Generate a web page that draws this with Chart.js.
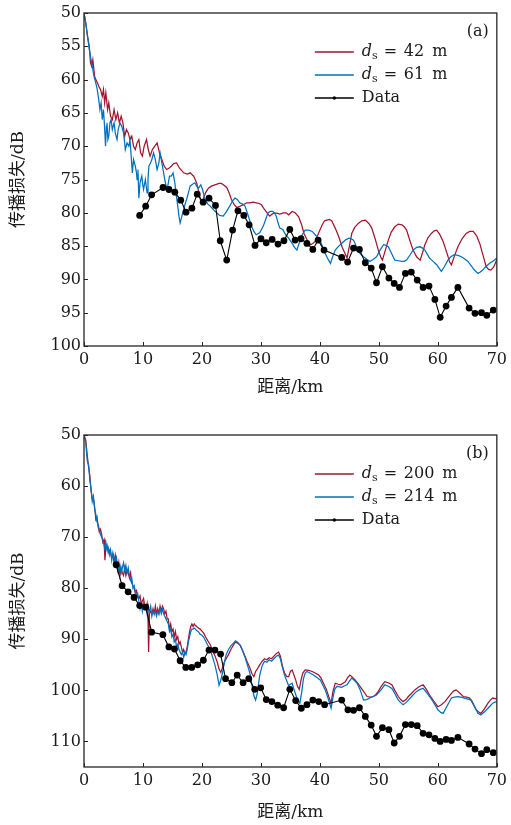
<!DOCTYPE html>
<html lang="zh">
<head>
<meta charset="UTF-8">
<title>传播损失</title>
<script src="https://cdn.jsdelivr.net/npm/chart.js"></script>
<style>
  html, body { margin: 0; padding: 0; background: #fff; }
  #wrap { position: relative; width: 511px; height: 825px; }
  canvas { position: absolute; left: 0; }
</style>
</head>
<body>
<div id="wrap">
  <canvas id="chartA" width="511" height="412" style="top:0"></canvas>
  <canvas id="chartB" width="511" height="413" style="top:412px"></canvas>
</div>
<script>
// ticks
var xTicks = [0, 10, 20, 30, 40, 50, 60, 70];
var yTicksA = [50, 55, 60, 65, 70, 75, 80, 85, 90, 95, 100];
var yTicksB = [50, 60, 70, 80, 90, 100, 110];

var namesA = ['42', '61', 'Data'];
var namesB = ['200', '214', 'Data'];

// (a) model, d_s = 42 m  [km, dB]
var redA = [[0,50],[0.3,51.5],[0.6,53.5],[0.9,55],[1.1,57.5],[1.3,58],[1.5,57],[1.8,59.5],[2.0,60],[2.3,60.5],[2.5,61],[2.8,61.5],[3.1,62.5],[3.3,61.5],[3.5,63.5],[3.7,62],[4.0,64.5],[4.2,63.5],[4.5,65.5],[4.8,66],[5.1,64.5],[5.4,66],[5.7,65],[6.0,66.5],[6.3,65.5],[6.6,66.5],[6.9,68.5],[7.2,67.5],[7.5,68],[7.8,69],[8.1,68.5],[8.4,70],[8.7,70.5],[9.0,69.5],[9.3,69],[9.6,71],[9.9,71.5],[10.2,70],[10.6,69],[10.9,70.5],[11.2,71.5],[11.6,70.5],[12.0,70],[12.4,69.5],[12.8,71],[13.2,72],[13.6,73],[14.0,73.5],[14.4,73.3],[14.8,73],[15.2,72.6],[15.7,72.5],[16.2,73.3],[16.9,74],[17.5,74.2],[18.0,74],[18.6,74.5],[19.1,75.5],[19.5,77],[19.8,78.3],[20.2,78],[20.6,77],[21.1,76.3],[21.6,76],[22.2,75.8],[22.9,75.6],[23.3,75.6],[23.8,75.9],[24.2,76.2],[24.6,77],[25.0,78],[25.5,78.8],[25.9,79.2],[26.5,79],[27.0,78.8],[27.6,78.5],[28.1,78.5],[28.7,78.4],[29.2,78.5],[29.7,78.6],[30.1,78.8],[30.6,79.5],[31.1,80.1],[31.5,80.5],[31.9,80.2],[32.3,80],[32.8,80.1],[33.2,80.2],[33.8,80],[34.3,80],[34.7,80.3],[35.3,79.8],[35.8,80],[36.4,80.6],[36.9,81.8],[37.3,83.1],[37.9,84.2],[38.4,84.8],[38.8,84.6],[39.2,84.3],[39.8,83],[40.4,81.8],[40.8,81.2],[41.2,81.1],[41.6,81],[42.0,81.2],[42.6,82.3],[43.2,83.6],[43.8,85.2],[44.3,86.2],[44.6,86.8],[45.0,85],[45.4,83.1],[45.9,82.2],[46.5,81.6],[47.1,81.2],[47.7,81.1],[48.3,81.6],[48.8,82.3],[49.4,84],[49.9,85.6],[50.3,86.6],[50.6,87.1],[51.1,85.6],[51.6,84.1],[52.1,82.9],[52.7,82.1],[53.3,81.7],[53.9,81.8],[54.3,82.1],[54.7,82.6],[55.2,84],[55.8,85.6],[56.4,86.6],[57.0,87.1],[57.4,86],[57.8,84.8],[58.3,83.8],[58.9,83.1],[59.4,82.7],[59.8,82.6],[60.3,83.2],[60.9,84.3],[61.6,86.2],[62.0,87.4],[62.3,87.8],[62.8,86.5],[63.4,85.1],[64.1,83.9],[64.8,83.1],[65.4,82.8],[66.0,82.8],[66.6,83.5],[67.1,84.6],[67.7,86.5],[68.2,88.1],[68.6,88.5],[69.0,88.6],[69.5,88.1],[70.0,87.0]];

// (a) model, d_s = 61 m
var blueA = [[0,50],[0.3,51.5],[0.6,53.5],[0.9,55.5],[1.1,56.5],[1.4,58],[1.7,59.5],[2.0,60.5],[2.25,61.5],[2.5,63],[2.7,64.5],[2.9,63.5],[3.1,66],[3.3,64.5],[3.45,66.5],[3.65,70],[3.8,67],[3.9,66.5],[4.05,69],[4.2,68.5],[4.4,66.5],[4.6,66],[4.8,67.5],[5.1,66.5],[5.3,68],[5.6,69],[5.8,67.5],[6.1,66.5],[6.4,67],[6.7,68],[6.9,69.5],[7.0,70.5],[7.3,69.5],[7.6,70],[7.8,69],[8.0,71.5],[8.2,74],[8.4,72],[8.7,73],[8.9,74],[9.0,75],[9.15,73.5],[9.3,77.8],[9.5,75.5],[9.8,74.5],[10.0,76],[10.1,76.5],[10.4,75],[10.7,77],[10.85,75],[11.0,73],[11.3,72.5],[11.5,72],[11.8,71],[12.1,72],[12.4,73.5],[12.7,72.5],[12.9,71],[13.2,72.5],[13.5,74],[13.8,75.5],[14.1,76.5],[14.3,75.5],[14.5,74.5],[14.8,74.5],[15.1,74],[15.4,75.5],[15.6,77],[15.9,79],[16.1,80.5],[16.3,81.5],[16.6,80.5],[16.9,79.5],[17.2,78.5],[17.4,78],[17.7,77],[18.0,76],[18.4,75.7],[18.8,75.5],[19.1,76],[19.4,76.3],[19.8,75.8],[20.1,76.5],[20.5,78],[21.0,78.7],[21.4,79],[22.0,79.6],[22.5,80],[23.0,80.4],[23.6,80.5],[24.1,79.9],[24.7,79],[25.2,78.2],[25.6,77.8],[26.0,78],[26.4,78.5],[26.9,78.7],[27.3,79],[27.8,80.3],[28.4,82],[28.8,82.8],[29.2,83.3],[29.8,83],[30.4,82],[30.8,81],[31.2,80],[31.6,79.8],[32.0,79.8],[32.3,80],[32.6,80.5],[32.9,81.5],[33.2,82.3],[33.7,82.5],[34.2,83.3],[34.7,83.8],[35.3,84.6],[35.7,85.2],[36.1,85.6],[36.5,84.5],[37.0,83.3],[37.5,82.6],[38.1,82.6],[38.7,82.8],[39.2,83.3],[39.6,83.7],[40.1,84.3],[40.5,85.2],[40.9,86.1],[41.4,87],[41.8,87.6],[42.2,86.5],[42.6,85.6],[43.2,85],[43.7,84.6],[44.3,84.1],[44.9,83.8],[45.3,83.9],[45.7,84.1],[46.1,84.9],[46.5,85.8],[47.0,86.3],[47.4,86.6],[48.0,87],[48.5,87.3],[49.0,87],[49.6,86.6],[50.2,85.6],[50.8,84.8],[51.2,84.9],[51.6,85.1],[52.2,86.2],[52.7,87.1],[53.3,87.2],[53.9,87.3],[54.3,87.3],[54.7,87.1],[55.3,86.3],[55.8,85.6],[56.4,85.2],[57.0,85.1],[57.4,85.3],[57.8,85.6],[58.2,86.2],[58.6,86.8],[59.2,87.3],[59.8,87.8],[60.2,88.3],[60.6,88.8],[61.1,88.1],[61.7,87.1],[62.2,86.6],[62.8,86.3],[63.4,86.4],[64.0,86.6],[64.5,86.9],[65.1,87.3],[65.6,87.9],[66.2,88.6],[66.8,89.1],[67.2,88.9],[67.6,88.6],[68.0,88.2],[68.5,87.8],[68.9,87.5],[69.3,87.3],[69.7,87.0],[70.0,86.8]];

// (a) measured
var dataA = [[9.44,80.4],[10.46,79.0],[11.47,77.3],[13.4,76.2],[14.4,76.5],[15.4,76.9],[16.4,78.1],[17.3,79.9],[18.3,79.3],[19.2,77.2],[20.2,78.4],[21.2,77.8],[22.3,78.9],[23.1,84.2],[24.2,87.1],[25.2,82.6],[26.1,79.7],[27.1,80.4],[28.0,81.8],[29.0,84.9],[30.0,83.9],[30.9,84.5],[31.9,84.0],[32.9,84.7],[33.9,84.2],[34.9,82.5],[35.8,84.1],[36.8,83.9],[37.8,84.6],[38.8,85.5],[39.7,84.1],[40.7,85.6],[43.7,86.7],[44.7,87.4],[45.7,85.3],[46.7,85.5],[47.7,87.5],[48.7,88.3],[49.6,90.5],[50.6,88.1],[51.7,89.8],[52.6,90.6],[53.5,91.2],[54.5,89.1],[55.5,88.9],[56.5,90.1],[57.5,91.2],[58.5,91.0],[59.5,93.0],[60.4,95.7],[61.4,94.0],[62.3,92.7],[63.4,91.2],[65.3,94.3],[66.3,95.1],[67.4,95.0],[68.3,95.4],[69.4,94.6]];

// (b) model, d_s = 200 m
var redB = [[0,50],[0.3,51],[0.55,54],[0.8,56.5],[1.0,58],[1.2,61],[1.4,62.5],[1.6,62.5],[1.8,64],[2.0,66.5],[2.2,66],[2.4,68],[2.6,69],[2.8,68.5],[3.0,69.5],[3.2,71],[3.4,70.5],[3.55,74.5],[3.7,72],[3.9,71.5],[4.1,73],[4.3,72.5],[4.5,73],[4.7,74],[4.9,73.5],[5.1,75],[5.3,73.5],[5.5,75],[5.7,76.5],[5.9,75],[6.1,77.5],[6.3,76],[6.5,77],[6.7,77.5],[6.9,76],[7.1,77.5],[7.3,76.5],[7.5,77],[7.7,78],[7.9,77],[8.1,79],[8.3,79.5],[8.5,80],[8.7,81],[8.9,80.5],[9.1,81.5],[9.3,82],[9.5,81.5],[9.7,83],[9.9,82.5],[10.1,82],[10.3,83.5],[10.5,84],[10.7,83],[10.85,86],[10.96,92.5],[11.1,85],[11.3,84.5],[11.5,85],[11.7,84],[11.9,85],[12.1,83.5],[12.3,85],[12.5,84],[12.7,85],[12.9,83.5],[13.1,84.5],[13.3,83.5],[13.5,84],[13.7,85],[13.9,84.5],[14.1,86],[14.3,86],[14.5,88],[14.7,87],[14.9,88.5],[15.1,88],[15.3,89.5],[15.5,88.5],[15.7,90],[15.9,89.5],[16.1,91],[16.3,90.5],[16.5,91.5],[16.7,92.5],[16.9,92],[17.1,93],[17.3,92.5],[17.5,91.5],[17.7,90],[17.9,88.5],[18.1,87.5],[18.3,87],[18.5,87.5],[18.7,87],[18.9,87.3],[19.1,87.5],[19.4,87.8],[19.7,88],[20.0,88.4],[20.3,88.8],[20.6,89.5],[21.0,90.3],[21.4,91],[21.8,92.2],[22.2,93.2],[22.6,94.5],[22.9,95.8],[23.2,96.5],[23.5,95.5],[23.8,94.5],[24.1,93.8],[24.5,93],[24.9,92],[25.3,91.2],[25.7,90.5],[26.1,90.8],[26.5,91.2],[26.9,92.2],[27.3,93.3],[27.7,94.5],[28.1,95.5],[28.5,96.8],[28.8,97.3],[29.1,96.3],[29.4,95.8],[29.8,95],[30.2,94.3],[30.6,93.8],[31.0,94],[31.4,93.6],[31.8,93.8],[32.2,93.3],[32.6,92.8],[33.0,92.5],[33.3,93.3],[33.6,95],[34.0,96.6],[34.4,97.3],[34.7,97.3],[35.0,96.3],[35.3,96],[35.6,97],[35.9,98],[36.2,99.2],[36.5,99.8],[36.8,98],[37.1,96.6],[37.5,96],[38.1,96.1],[38.7,96.3],[39.2,96.6],[39.8,97],[40.2,97.6],[40.6,98.6],[41.1,99.8],[41.5,101.2],[41.9,102.5],[42.2,100.3],[42.6,98.6],[43.1,98.8],[43.5,98.9],[43.9,98.6],[44.3,98.3],[44.7,97.5],[45.1,97],[45.5,97.4],[46.0,98],[46.4,98.6],[46.8,99.2],[47.4,100.2],[48.0,101.2],[48.5,101.3],[49.1,101.2],[49.5,100.8],[49.9,100.2],[50.4,99.2],[51.0,98.3],[51.6,98.5],[52.2,98.9],[52.7,100],[53.3,101.2],[53.7,101.8],[54.1,102.2],[54.6,101.8],[55.0,101.2],[55.6,100.5],[56.1,99.9],[56.8,99.3],[57.5,98.9],[58.0,99.7],[58.6,100.9],[59.3,102.1],[60.0,103.2],[60.6,102.8],[61.2,102.2],[61.8,101.3],[62.3,100.6],[62.7,100.1],[63.1,99.9],[63.7,100.5],[64.3,101.2],[64.9,101.3],[65.4,101.5],[66.0,102.7],[66.5,103.8],[67.0,104.3],[67.3,104.5],[67.9,103.6],[68.5,102.5],[68.9,101.9],[69.3,101.5],[69.7,101.6],[70.0,101.7]];

// (b) model, d_s = 214 m
var blueB = [[0,50],[0.3,51.5],[0.55,55],[0.8,56],[1.0,59],[1.2,60.5],[1.4,63],[1.6,62],[1.8,64.5],[2.0,65.5],[2.2,67],[2.4,67.5],[2.6,68.5],[2.8,69.5],[3.0,70],[3.2,70.5],[3.4,71.5],[3.55,72.5],[3.7,71],[3.9,72.5],[4.1,72],[4.3,73.5],[4.5,72.5],[4.7,74.5],[4.9,73],[5.1,74],[5.3,75],[5.5,74],[5.7,75.5],[5.9,76.5],[6.1,75.5],[6.3,77],[6.5,76],[6.7,75],[6.9,76.5],[7.1,75.5],[7.3,77],[7.5,76],[7.7,77.5],[7.9,78.5],[8.1,78],[8.3,80],[8.5,79.5],[8.7,80.5],[8.9,81.5],[9.1,81],[9.3,82.5],[9.5,84],[9.7,83],[9.9,84.5],[10.1,83],[10.3,84],[10.5,83.5],[10.7,85],[10.9,84],[11.1,84.5],[11.3,83.5],[11.5,85.5],[11.7,84.5],[11.9,85],[12.1,84.5],[12.3,85.5],[12.5,84.5],[12.7,85],[12.9,84],[13.1,85],[13.3,84],[13.5,85],[13.7,85.5],[13.9,86],[14.1,86.5],[14.3,87],[14.5,88.5],[14.7,88],[14.9,89.5],[15.1,89],[15.3,90.5],[15.5,90],[15.7,91.5],[15.9,91],[16.1,92],[16.3,92.5],[16.5,93],[16.7,92.5],[16.9,93.5],[17.1,92.5],[17.3,93],[17.5,92],[17.7,90.5],[17.9,89.5],[18.1,88.5],[18.3,88],[18.5,88],[18.7,87.8],[18.9,88],[19.1,88.3],[19.4,88.5],[19.7,89],[20.0,89.2],[20.3,89.6],[20.6,90.3],[21.0,91.2],[21.4,92],[21.8,93.5],[22.2,95],[22.6,97],[22.9,99],[23.2,98],[23.5,96.5],[23.8,94.5],[24.1,93],[24.5,92],[24.9,91.3],[25.3,90.8],[25.7,90.3],[26.1,90.6],[26.5,91.2],[26.9,92.3],[27.3,93.5],[27.7,95],[28.1,96.5],[28.5,99],[28.8,101],[29.1,101.9],[29.4,100.5],[29.8,97],[30.2,95.2],[30.6,94.3],[31.0,94.5],[31.4,94],[31.8,94.3],[32.2,93.8],[32.6,93.3],[33.0,93.1],[33.3,93.8],[33.6,95.3],[34.0,97],[34.4,98.2],[34.7,99.1],[35.0,98.8],[35.3,98.6],[35.6,99.8],[35.9,100.8],[36.2,101.9],[36.6,102.5],[36.9,100.5],[37.2,97.8],[37.5,96.6],[37.8,96.3],[38.3,96.6],[38.9,97],[39.5,97.5],[40.1,98],[40.5,99],[40.9,99.9],[41.4,101.6],[41.9,103.5],[42.2,101.5],[42.5,99.8],[42.9,99.2],[43.3,99.3],[43.7,99.4],[44.2,99.1],[44.6,98.9],[45.0,98.2],[45.4,97.6],[45.8,98],[46.3,98.6],[46.8,99.8],[47.4,101.9],[47.9,101.8],[48.5,101.5],[49.0,101.2],[49.6,100.9],[50.3,100],[51.0,98.9],[51.6,99.2],[52.2,99.6],[52.7,100.6],[53.3,101.9],[53.7,102.4],[54.1,102.8],[54.6,102.4],[55.0,101.9],[55.7,101],[56.4,100.2],[57.0,99.8],[57.5,99.6],[58.0,100.3],[58.6,101.2],[59.3,102.4],[60.0,103.8],[60.5,104.3],[60.9,104.5],[61.5,103.2],[62.3,101.5],[62.8,101.3],[63.4,101.2],[63.9,101.3],[64.5,101.5],[65.1,101.7],[65.7,101.9],[66.2,103.1],[66.8,104.5],[67.3,104.8],[67.9,104.2],[68.5,103.5],[68.9,103],[69.3,102.5],[69.7,102.3],[70.0,102.2]];

// (b) measured
var dataB = [[5.45,75.4],[6.46,79.5],[7.48,80.7],[8.49,81.8],[9.44,83.4],[10.46,83.7],[11.47,88.6],[13.38,89.1],[14.39,91.5],[15.35,91.9],[16.3,94.2],[17.26,95.5],[18.27,95.5],[19.28,95.0],[20.24,94.1],[21.19,92.1],[22.2,92.1],[23.16,92.9],[24.0,97.7],[25.07,98.5],[25.97,97.0],[26.98,98.5],[27.94,97.7],[28.95,99.8],[29.96,99.5],[30.9,101.8],[31.85,102.2],[32.85,102.9],[33.85,103.4],[34.9,99.8],[35.9,102.0],[36.85,103.5],[37.8,102.8],[38.8,101.9],[39.8,102.2],[40.8,102.8],[43.7,101.9],[44.75,103.8],[45.7,103.9],[46.7,103.4],[47.7,105.1],[48.7,106.8],[49.6,109.0],[50.6,107.3],[51.7,107.7],[52.6,110.3],[53.5,109.0],[54.5,106.7],[55.5,106.7],[56.5,106.9],[57.5,108.4],[58.5,108.7],[59.5,109.4],[60.4,110.0],[61.4,109.6],[62.3,109.8],[63.4,109.2],[65.3,110.5],[66.3,111.5],[67.4,112.4],[68.3,111.6],[69.4,112.2]];

var RED = '#a2142f', BLUE = '#0072bd', INK = '#1a1a1a';
var SERIF = '"DejaVu Serif", "Noto Sans CJK SC", serif';

function pts(arr) {
    return arr.map(function(p) { return { x: p[0], y: p[1] }; });
}

// frame, inward ticks, panel tag and legend with subscripts
var panelPlugin = {
    id: 'panel',
    afterDatasetsDraw: function(chart, args, opts) {
        var ctx = chart.ctx, a = chart.chartArea;
        var xs = chart.scales.x, ys = chart.scales.y;
        ctx.save();
        ctx.strokeStyle = '#262626';
        ctx.lineWidth = 1.3;
        ctx.strokeRect(a.left, a.top, a.right - a.left, a.bottom - a.top);

        ctx.lineWidth = 1;
        ctx.beginPath();
        xs.ticks.forEach(function(t) {
            var px = Math.round(xs.getPixelForValue(t.value)) + 0.5;
            ctx.moveTo(px, a.bottom);
            ctx.lineTo(px, a.bottom - 4);
        });
        ys.ticks.forEach(function(t) {
            var py = Math.round(ys.getPixelForValue(t.value)) + 0.5;
            ctx.moveTo(a.left, py);
            ctx.lineTo(a.left + 4, py);
        });
        ctx.stroke();

        ctx.fillStyle = INK;
        ctx.textBaseline = 'middle';
        ctx.textAlign = 'right';
        ctx.font = '16px ' + SERIF;
        ctx.fillText(opts.tag, a.right - 8, a.top + opts.tagY);

        var lx0 = a.right - 182, lx1 = a.right - 143, tx = a.right - 135;
        ctx.textAlign = 'left';
        chart.data.datasets.forEach(function(ds, i) {
            var y = a.top + opts.rows[i];
            ctx.strokeStyle = ds.borderColor;
            ctx.lineWidth = 1.3;
            ctx.beginPath();
            ctx.moveTo(lx0, y);
            ctx.lineTo(lx1, y);
            ctx.stroke();
            ctx.fillStyle = INK;
            if (ds.pointRadius > 0) {
                ctx.fillStyle = ds.borderColor;
                ctx.beginPath();
                ctx.arc((lx0 + lx1) / 2, y, 1.7, 0, 2 * Math.PI);
                ctx.fill();
                ctx.fillStyle = INK;
                ctx.font = '16px ' + SERIF;
                ctx.fillText(opts.names[i], tx, y);
            } else {
                ctx.font = 'italic 16px ' + SERIF;
                ctx.fillText('d', tx, y);
                var dw = ctx.measureText('d').width;
                ctx.font = '11px ' + SERIF;
                ctx.fillText('s', tx + dw, y + 4);
                ctx.font = '16px ' + SERIF;
                ctx.fillText('=', tx + 22, y);
                ctx.fillText(opts.names[i], tx + 42, y);
                var nw = ctx.measureText(opts.names[i]).width;
                ctx.fillText('m', tx + 42 + nw + 8, y);
            }
        });
        ctx.restore();
    }
};

function makeChart(id, red, blue, meas, yMax, yTicks, names, tag, pad, xH, xTitlePad) {
    var ctx = document.getElementById(id).getContext('2d');
    return new Chart(ctx, {
        type: 'line',
        data: {
            datasets: [
                { label: names[0], data: pts(red), borderColor: RED, borderWidth: 1.25, pointRadius: 0, order: 2 },
                { label: names[1], data: pts(blue), borderColor: BLUE, borderWidth: 1.25, pointRadius: 0, order: 1 },
                { label: names[2], data: pts(meas), borderColor: '#000', backgroundColor: '#000', borderWidth: 1.1,
                  pointRadius: 3.4, pointBorderWidth: 0, order: 0 }
            ]
        },
        options: {
            responsive: false,
            animation: false,
            layout: { padding: pad },
            plugins: {
                legend: { display: false },
                tooltip: { enabled: false },
                panel: { tag: tag, tagY: 19, rows: [39, 62, 85], names: names }
            },
            scales: {
                x: {
                    type: 'linear', min: 0, max: 70,
                    afterBuildTicks: function(s) { s.ticks = xTicks.map(function(v) { return { value: v }; }); },
                    afterFit: function(s) { s.height = xH; },
                    grid: { display: false, drawTicks: false },
                    border: { display: false },
                    ticks: { padding: 4, color: INK, font: { family: SERIF, size: 16 }, maxRotation: 0, autoSkip: false },
                    title: { display: true, text: '距离/km', color: INK, font: { family: SERIF, size: 17 },
                             padding: { top: 0, bottom: xTitlePad } }
                },
                y: {
                    type: 'linear', min: 50, max: yMax, reverse: true,
                    afterBuildTicks: function(s) { s.ticks = yTicks.map(function(v) { return { value: v }; }); },
                    afterFit: function(s) { s.width = 84; },
                    grid: { display: false, drawTicks: false },
                    border: { display: false },
                    ticks: { padding: 3, color: INK, font: { family: SERIF, size: 16 }, autoSkip: false },
                    title: { display: true, text: '传播损失/dB', color: INK, font: { family: SERIF, size: 17 },
                             padding: { top: 8, bottom: 0 } }
                }
            }
        },
        plugins: [panelPlugin]
    });
}

makeChart('chartA', redA, blueA, dataA, 100, yTicksA, namesA, '(a)',
          { top: 13, right: 11, bottom: 10, left: 0 }, 56, 4);
makeChart('chartB', redB, blueB, dataB, 115, yTicksB, namesB, '(b)',
          { top: 23, right: 11, bottom: 0, left: 0 }, 58, 2);
</script>
</body>
</html>
